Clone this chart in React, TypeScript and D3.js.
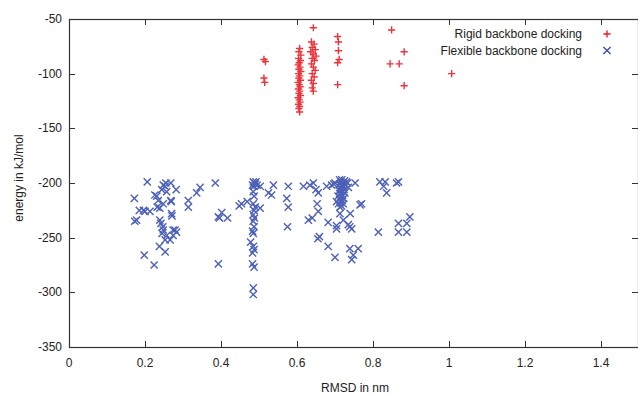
import React, { useEffect, useRef } from 'react';
import * as d3 from 'd3';

// [RMSD (nm), energy (kJ/mol)]
const rigidPoints: [number, number][] = [
  [0.513, -87], [0.517, -89], [0.513, -104], [0.515, -108],
  [0.607, -77], [0.605, -80], [0.61, -83], [0.604, -86], [0.609, -88], [0.606, -90], [0.603, -92],
  [0.608, -94], [0.605, -96], [0.61, -98], [0.604, -100], [0.607, -102], [0.605, -104], [0.609, -106],
  [0.603, -108], [0.606, -110], [0.608, -112], [0.604, -114], [0.607, -116], [0.605, -118], [0.609, -120],
  [0.603, -122], [0.606, -124], [0.608, -126], [0.604, -128], [0.607, -130], [0.605, -132], [0.607, -135],
  [0.643, -58], [0.638, -71], [0.645, -73], [0.64, -76], [0.648, -78], [0.636, -80], [0.643, -82],
  [0.65, -84], [0.64, -86], [0.646, -88], [0.638, -91], [0.643, -94], [0.648, -97], [0.64, -100],
  [0.645, -103], [0.638, -106], [0.643, -109], [0.64, -113], [0.643, -116],
  [0.707, -66], [0.709, -71], [0.709, -79], [0.711, -87], [0.707, -90], [0.707, -110],
  [0.849, -60], [0.882, -80], [0.845, -91], [0.869, -91], [0.882, -111], [1.007, -100],
];

const flexiblePoints: [number, number][] = [
  [0.172, -214], [0.206, -199], [0.178, -234], [0.173, -235], [0.185, -225], [0.196, -225], [0.2, -226],
  [0.213, -226], [0.226, -211], [0.231, -212], [0.235, -216], [0.232, -222], [0.239, -223], [0.244, -206],
  [0.248, -202], [0.253, -203], [0.257, -208], [0.248, -219], [0.239, -234], [0.242, -237], [0.247, -240],
  [0.248, -243], [0.245, -246], [0.253, -252], [0.257, -248], [0.268, -216], [0.27, -228], [0.271, -230],
  [0.274, -243], [0.274, -248], [0.266, -252], [0.279, -243], [0.283, -245], [0.238, -258], [0.253, -263],
  [0.198, -266], [0.224, -275], [0.255, -200], [0.268, -200], [0.282, -206], [0.269, -217], [0.314, -216],
  [0.314, -222], [0.336, -209], [0.345, -204], [0.385, -200], [0.393, -231], [0.393, -274],
  [0.402, -227], [0.396, -232], [0.417, -232], [0.448, -221], [0.469, -217], [0.454, -219],
  [0.485, -199], [0.488, -200], [0.49, -201], [0.483, -202], [0.487, -203], [0.492, -199], [0.495, -202],
  [0.485, -208], [0.487, -212], [0.485, -219], [0.49, -222], [0.487, -225], [0.485, -229], [0.488, -232],
  [0.485, -235], [0.487, -240], [0.483, -244], [0.485, -246], [0.478, -254], [0.485, -258], [0.487, -261],
  [0.483, -264], [0.483, -274], [0.487, -277], [0.485, -296], [0.485, -302], [0.503, -223], [0.503, -203],
  [0.538, -202], [0.525, -209], [0.533, -211],
  [0.577, -203], [0.573, -214], [0.577, -222], [0.575, -240],
  [0.617, -203], [0.634, -202], [0.643, -200], [0.656, -209], [0.65, -206], [0.653, -219], [0.656, -226],
  [0.63, -234], [0.64, -232], [0.682, -236], [0.659, -249], [0.655, -251], [0.682, -258], [0.7, -268],
  [0.678, -203], [0.691, -202], [0.697, -201],
  [0.7, -200], [0.704, -217], [0.713, -228], [0.74, -228], [0.722, -234], [0.704, -239], [0.735, -238],
  [0.744, -242], [0.704, -242], [0.739, -240], [0.766, -220], [0.77, -219], [0.753, -200], [0.818, -199],
  [0.832, -199], [0.836, -209], [0.828, -203], [0.862, -200], [0.867, -199], [0.814, -245], [0.867, -237],
  [0.889, -237], [0.897, -231], [0.867, -245], [0.889, -245], [0.739, -260], [0.761, -260], [0.748, -266],
  [0.744, -270],
  [0.712, -197], [0.718, -197], [0.725, -198], [0.715, -199], [0.722, -200], [0.73, -199], [0.712, -201],
  [0.719, -202], [0.727, -202], [0.714, -204], [0.721, -204], [0.716, -206], [0.724, -206], [0.711, -207],
  [0.718, -208], [0.726, -209], [0.713, -210], [0.72, -211], [0.716, -213], [0.723, -214], [0.712, -215],
  [0.719, -216], [0.715, -218], [0.722, -219], [0.717, -221], [0.713, -222], [0.733, -200], [0.735, -204],
  [0.708, -212], [0.709, -219],
];

const xTicks = [0, 0.2, 0.4, 0.6, 0.8, 1, 1.2, 1.4];
const yTicks = [-50, -100, -150, -200, -250, -300, -350];
const seriesLabels = ['Rigid backbone docking', 'Flexible backbone docking'];

const WIDTH = 638;
const HEIGHT = 395;
const RED = '#ee1c25';
const BLUE = '#3a4fb0';

export default function App() {
  const svgRef = useRef<SVGSVGElement>(null);

  useEffect(() => {
    const svg = d3.select(svgRef.current);
    svg.selectAll('*').remove();

    const margin = { top: 19, left: 69, bottom: 347, right: 639 };
    const x = d3.scaleLinear().domain([0, 1.5]).range([margin.left, margin.right]);
    const y = d3.scaleLinear().domain([-350, -50]).range([margin.bottom, margin.top]);
    const font = '"Liberation Sans", Arial, sans-serif';
    const axisColor = '#333';
    const tick = 6;

    // frame
    svg.append('rect')
      .attr('x', margin.left + 0.5)
      .attr('y', margin.top + 0.5)
      .attr('width', margin.right - margin.left - 1)
      .attr('height', margin.bottom - margin.top)
      .attr('fill', 'none')
      .attr('stroke', axisColor)
      .attr('stroke-width', 1.2);

    // x ticks (bottom and mirrored at top)
    xTicks.forEach(t => {
      const px = Math.round(x(t)) + 0.5;
      svg.append('line').attr('x1', px).attr('x2', px)
        .attr('y1', margin.bottom).attr('y2', margin.bottom - tick)
        .attr('stroke', axisColor);
      svg.append('line').attr('x1', px).attr('x2', px)
        .attr('y1', margin.top).attr('y2', margin.top + tick)
        .attr('stroke', axisColor);
      svg.append('text')
        .attr('x', x(t)).attr('y', 367)
        .attr('text-anchor', 'middle')
        .attr('font-family', font).attr('font-size', 12).attr('fill', '#222')
        .text(d3.format('~g')(t));
    });

    yTicks.forEach(t => {
      const py = Math.round(y(t)) + 0.5;
      svg.append('line').attr('x1', margin.left).attr('x2', margin.left + tick)
        .attr('y1', py).attr('y2', py).attr('stroke', axisColor);
      svg.append('line').attr('x1', margin.right - 1).attr('x2', margin.right - 1 - tick)
        .attr('y1', py).attr('y2', py).attr('stroke', axisColor);
      svg.append('text')
        .attr('x', 62).attr('y', y(t) + 4)
        .attr('text-anchor', 'end')
        .attr('font-family', font).attr('font-size', 12).attr('fill', '#222')
        .text(t);
    });

    svg.append('text')
      .attr('x', 355).attr('y', 392)
      .attr('text-anchor', 'middle')
      .attr('font-family', font).attr('font-size', 12).attr('fill', '#222')
      .text('RMSD in nm');

    svg.append('text')
      .attr('transform', 'translate(23,178) rotate(-90)')
      .attr('text-anchor', 'middle')
      .attr('font-family', font).attr('font-size', 12).attr('fill', '#222')
      .text('energy in kJ/mol');

    const r = 3.6;
    const plus = (g: any, cx: number, cy: number, color: string) => {
      g.append('path')
        .attr('d', `M${cx - r},${cy}H${cx + r}M${cx},${cy - r}V${cy + r}`)
        .attr('stroke', color).attr('stroke-width', 1.4).attr('fill', 'none');
    };
    const cross = (g: any, cx: number, cy: number, color: string) => {
      g.append('path')
        .attr('d', `M${cx - r},${cy - r}L${cx + r},${cy + r}M${cx - r},${cy + r}L${cx + r},${cy - r}`)
        .attr('stroke', color).attr('stroke-width', 1.4).attr('fill', 'none');
    };

    const points = svg.append('g').attr('opacity', 0.9);
    rigidPoints.forEach(([a, b]) => plus(points, x(a), y(b), RED));
    flexiblePoints.forEach(([a, b]) => cross(points, x(a), y(b), BLUE));

    // legend
    const legend = svg.append('g');
    seriesLabels.forEach((label, i) => {
      const ly = 34 + i * 16.5;
      legend.append('text')
        .attr('x', 582).attr('y', ly + 4)
        .attr('text-anchor', 'end')
        .attr('font-family', font).attr('font-size', 12).attr('fill', '#222')
        .text(label);
      if (i === 0) plus(legend, 607, ly, RED);
      else cross(legend, 607, ly, BLUE);
    });
  }, []);

  return (
    <svg
      ref={svgRef}
      width={WIDTH}
      height={HEIGHT}
      style={{ position: 'absolute', left: 0, top: 0, background: '#fff' }}
    />
  );
}
